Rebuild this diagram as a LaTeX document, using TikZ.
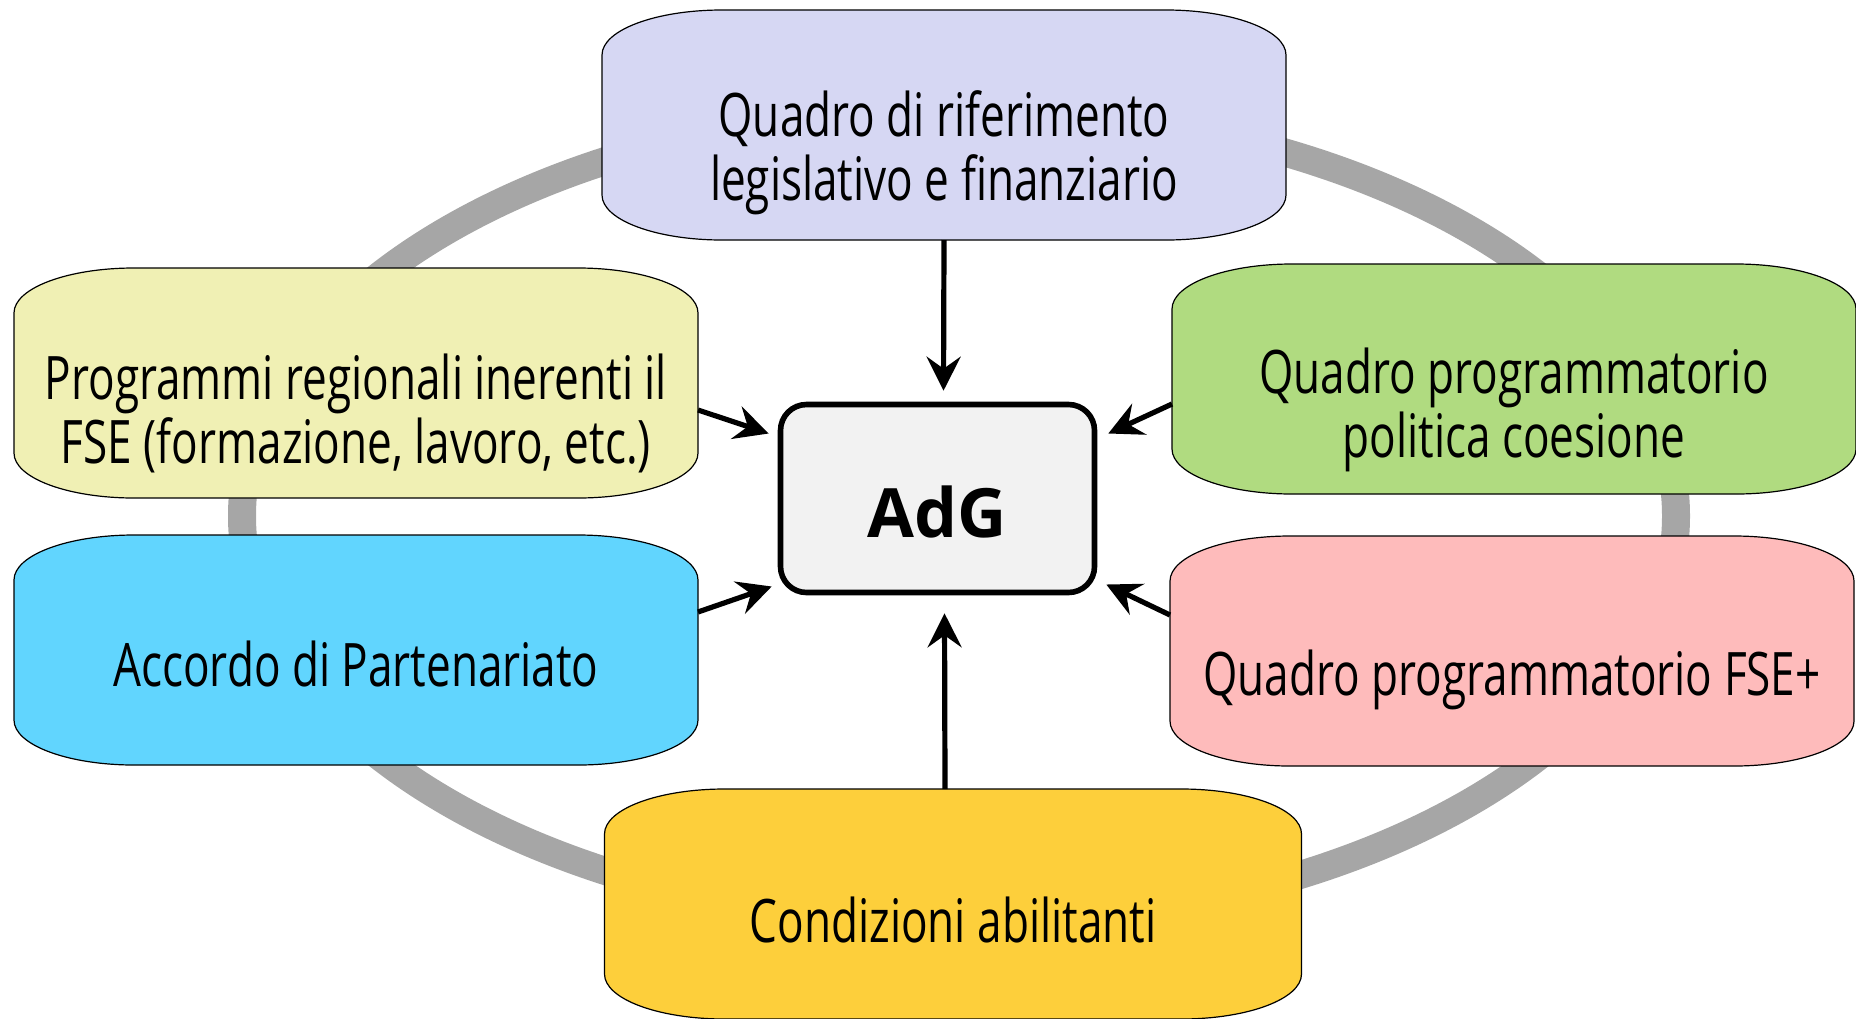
\documentclass[tikz,border=0pt]{standalone}
\usepackage{fontspec}
\setmainfont{Open Sans}[FakeStretch=0.735]
\newfontfamily\adgfont{Open Sans}
\usetikzlibrary{arrows.meta,backgrounds}

\definecolor{lavender}{HTML}{D6D7F3}
\definecolor{paleyellow}{HTML}{F0F0B4}
\definecolor{skyblue}{HTML}{61D5FE}
\definecolor{leafgreen}{HTML}{B0DB80}
\definecolor{rosepink}{HTML}{FEBBBB}
\definecolor{sunyellow}{HTML}{FDCF3B}
\definecolor{adggrey}{HTML}{F2F2F2}
\definecolor{ringgrey}{HTML}{A6A6A6}

\begin{document}
\begin{tikzpicture}[
    x=0.5pt, y=-0.5pt,
    font=\fontsize{30}{32}\selectfont,
    slab/.style={rectangle, inner sep=0pt, outer sep=0pt, minimum width=342pt, minimum height=115pt},
    slabtext/.style={align=center, inner sep=0pt},
    hub/.style={rectangle, rounded corners=13pt, draw=black, line width=2.8pt, fill=adggrey, minimum width=157pt, minimum height=94pt, font=\adgfont\bfseries\fontsize{34}{40}\selectfont},
    arrow/.style={line width=2.6pt, -{Stealth[length=17pt, width=17pt, inset=6pt]}},
    ring/.style={line width=14pt, draw=ringgrey},
    outline/.style={draw=black, line width=0.6pt}
]
\useasboundingbox (0,0) rectangle (1856,1018);

% --- Nodes ---
\coordinate (centre) at (959,516);
\node (adg) at (937.5,498.5) [hub] {};
\node (adg-t) at ([shift={(0,13)}]adg.center) {\adgfont\bfseries\fontsize{34}{40}\selectfont AdG};

% outer boxes
\node (legis) at (944,125) [slab] {};
\node (progr) at (356,383) [slab] {};
\node (accordo) at (356,650) [slab] {};
\node (coesione) at (1514,379) [slab] {};
\node (fseplus) at (1512,651) [slab] {};
\node (condiz) at (953,904) [slab, minimum width=348.5pt] {};

% texts (a little below the middle)
\node (legis-t) at ([shift={(0,28)}]legis.center) [slabtext] {Quadro di riferimento\\legislativo e finanziario};
\node (progr-t) at ([shift={(0,30)}]progr.center) [slabtext] {Programmi regionali inerenti il\\FSE (formazione, lavoro, etc.)};
\node (accordo-t) at ([shift={(0,14)}]accordo.center) [slabtext] {Accordo di Partenariato};
\node (coesione-t) at ([shift={(0,31)}]coesione.center) [slabtext] {Quadro programmatorio\\politica coesione};
\node (fseplus-t) at ([shift={(0,29)}]fseplus.center) [slabtext] {Quadro programmatorio FSE+};
\node (condiz-t) at ([shift={(0,16)}]condiz.center) [slabtext] {Condizioni abilitanti};

% ring and box outlines behind everything
\begin{scope}[on background layer]
\draw [ring] (centre) ellipse [x radius=358.5pt, y radius=204pt];
\foreach \n/\c in {legis/lavender, progr/paleyellow, accordo/skyblue, coesione/leafgreen, fseplus/rosepink, condiz/sunyellow}
  \draw [outline, fill=\c]
    ([shift={(0,45)}]\n.north west) .. controls ([shift={(0,20)}]\n.north west) and ([shift={(54,0)}]\n.north west) .. ([shift={(120,0)}]\n.north west)
    -- ([shift={(-120,0)}]\n.north east) .. controls ([shift={(-54,0)}]\n.north east) and ([shift={(0,20)}]\n.north east) .. ([shift={(0,45)}]\n.north east)
    -- ([shift={(0,-45)}]\n.south east) .. controls ([shift={(0,-20)}]\n.south east) and ([shift={(-54,0)}]\n.south east) .. ([shift={(-120,0)}]\n.south east)
    -- ([shift={(120,0)}]\n.south west) .. controls ([shift={(54,0)}]\n.south west) and ([shift={(0,-20)}]\n.south west) .. ([shift={(0,-45)}]\n.south west)
    -- cycle;
\end{scope}

% --- Edges ---
\draw [arrow] (legis.south) -- ([shift={(6,-11)}]adg.north);
\draw [arrow] ([shift={(-8,0)}]condiz.north) -- ([shift={(7,18)}]adg.south);
\draw [arrow] ([shift={(0,27)}]progr.east) -- ([shift={(-9,-65)}]adg.west);
\draw [arrow] ([shift={(0,-38)}]accordo.east) -- ([shift={(-6,88)}]adg.west);
\draw [arrow] ([shift={(0,25)}]coesione.west) -- ([shift={(11,-65)}]adg.east);
\draw [arrow] ([shift={(0,-36)}]fseplus.west) -- ([shift={(9,86)}]adg.east);

\end{tikzpicture}
\end{document}
